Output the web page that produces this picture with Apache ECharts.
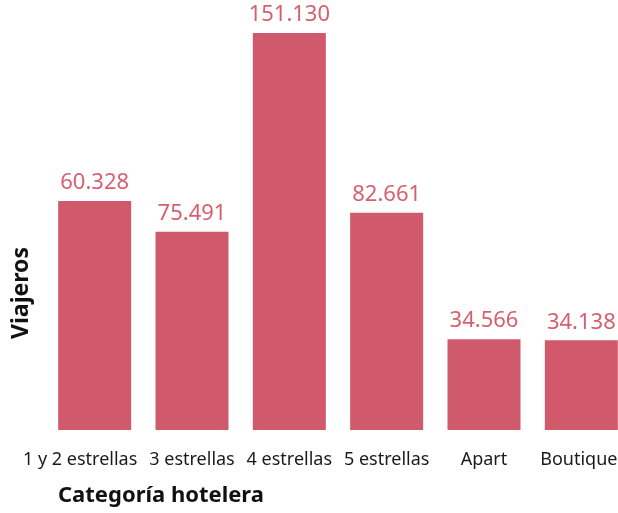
<!DOCTYPE html>
<html>
<head>
<meta charset="utf-8">
<script src="https://cdn.jsdelivr.net/npm/echarts@6/dist/echarts.min.js"></script>
<style>
  html, body { margin: 0; padding: 0; background: #fff; }
  #chart { width: 618px; height: 513px; }
</style>
</head>
<body>
<div id="chart"></div>
<script>
var categorias = ['1 y 2 estrellas', '3 estrellas', '4 estrellas', '5 estrellas', 'Apart', 'Boutique'];
// alturas de barra tal como aparecen dibujadas
var viajeros = [87170, 75491, 151130, 82661, 34566, 34138];
// textos de las etiquetas
var etiquetas = ['60.328', '75.491', '151.130', '82.661', '34.566', '34.138'];

var chart = echarts.init(document.getElementById('chart'));

var option = {
  animation: false,
  grid: { left: 46, width: 584, top: 33, bottom: 83, outerBoundsMode: 'none' },
  xAxis: {
    type: 'category',
    data: categorias.map(function (c, i) {
      // la primera etiqueta está desplazada a la izquierda, la última algo también
      if (i === 0) return { value: c, textStyle: { padding: [0, 29, 0, 0] } };
      if (i === categorias.length - 1) return { value: c, textStyle: { padding: [0, 5, 0, 0] } };
      return c;
    }),
    axisLine: { show: false },
    axisTick: { show: false },
    axisLabel: {
      interval: 0,
      margin: 21,
      color: '#1a1a1a',
      fontFamily: 'Noto Sans',
      fontSize: 18
    }
  },
  yAxis: {
    type: 'value',
    min: 0,
    max: 151130,
    show: false
  },
  title: {
    text: 'Categoría hotelera',
    left: 53,
    top: 480,
    textStyle: { fontFamily: 'Noto Sans', fontSize: 22, fontWeight: 'bold', color: '#111' }
  },
  graphic: [{
    type: 'text',
    x: 21,
    y: 293,
    rotation: Math.PI / 2,
    style: {
      text: 'Viajeros',
      font: 'bold 23px "Noto Sans"',
      fill: '#111',
      align: 'center',
      verticalAlign: 'middle'
    }
  }],
  series: [{
    type: 'bar',
    data: viajeros,
    barWidth: 73,
    itemStyle: { color: '#d05a6b' },
    label: {
      show: true,
      position: 'top',
      distance: 7,
      color: '#d6606f',
      fontFamily: 'Noto Sans',
      fontSize: 22,
      formatter: function (p) { return etiquetas[p.dataIndex]; }
    }
  }]
};

chart.setOption(option);
</script>
</body>
</html>
